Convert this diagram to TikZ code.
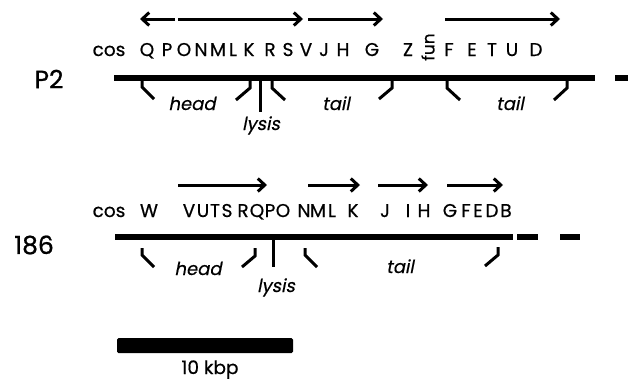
\documentclass[tikz,border=0pt]{standalone}
\usepackage{fontspec}
\setmainfont{Poppins}[AutoFakeSlant=0.2]
\usetikzlibrary{arrows.meta}
\tikzset{
  gene/.style={font=\fontsize{18.5}{20}\selectfont\addfontfeature{FakeBold=0.6}, anchor=base, inner sep=0pt},
  lab/.style={font=\fontsize{18}{20}\selectfont\itshape\addfontfeature{FakeBold=0.5}, anchor=base, inner sep=0pt},
  phage/.style={font=\fontsize{25}{28}\selectfont\addfontfeature{FakeBold=0.8}, inner sep=0pt},
  dna/.style={line width=5.5pt},
  brk/.style={line width=3pt},
  garrow/.style={line width=3pt, -{Straight Barb[length=7pt,width=13pt]}},
}
\begin{document}
\begin{tikzpicture}[x=1pt,y=-1pt]
\useasboundingbox (0,0) rectangle (628,381);
% ---------- P2 ----------
\node[phage] (p2lab) at (49,79) {P2};
\node[gene] (p2cos) at (109,56) {cos};
\foreach \l/\x in {Q/147,P/167,O/184,N/201,M/218,L/233,K/249,R/270,S/288,V/306,J/324,H/343,G/372,Z/408,F/449,E/472,T/492,U/512,D/536}
  \node[gene] (p2\l) at (\x,56) {\l};
\node[font=\fontsize{17}{18}\selectfont\addfontfeature{FakeBold=0.5}, rotate=90, inner sep=0pt] (p2fun) at (428,47) {fun};
% arrows
\coordinate (a1s) at (175,19); \coordinate (a1e) at (140,19);
\coordinate (a2s) at (178,19); \coordinate (a2e) at (303,19);
\coordinate (a3s) at (308,19); \coordinate (a3e) at (383,19);
\coordinate (a4s) at (445,19); \coordinate (a4e) at (560,19);
\draw[garrow] (a1s) -- (a1e);
\draw[garrow] (a2s) -- (a2e);
\draw[garrow] (a3s) -- (a3e);
\draw[garrow] (a4s) -- (a4e);
% DNA
\coordinate (p2l) at (114,78); \coordinate (p2r) at (595,78);
\coordinate (p2d1) at (615,78); \coordinate (p2d2) at (632,78);
\draw[dna] (p2l) -- (p2r);
\draw[dna] (p2d1) -- (p2d2);
% brackets
\draw[brk] (142,79) -- (142,87) -- (154,99);
\draw[brk] (250,79) -- (250,88) -- (236,100);
\draw[brk] (260,79) -- (260,112);
\draw[brk] (272,79) -- (272,88) -- (285,100);
\draw[brk] (392,79) -- (392,88) -- (379,99);
\draw[brk] (447,79) -- (447,88) -- (460,100);
\draw[brk] (567,79) -- (567,88) -- (554,100);
\node[lab] (p2head) at (192,110) {head};
\node[lab] (p2tail1) at (336,110) {tail};
\node[lab] (p2tail2) at (510,110) {tail};
\node[lab] (p2lysis) at (261,130) {lysis};
% ---------- 186 ----------
\node[phage] (qlab) at (34,245) {186};
\node[gene] (qcos) at (109,217) {cos};
\foreach \l/\x in {W/149,V/189,U/203,T/215,S/227,R/243,Q/257,P/270,O/283,N/304,M/318,L/332,K/353,J/385,I/408,H/424,G/450,F/466,E/478,D/492,B/506}
  \node[gene] (q\l) at (\x,217) {\l};
\coordinate (b1s) at (178,185); \coordinate (b1e) at (267,185);
\coordinate (b2s) at (308,185); \coordinate (b2e) at (360,185);
\coordinate (b3s) at (378,185); \coordinate (b3e) at (428,185);
\coordinate (b4s) at (447,185); \coordinate (b4e) at (503,185);
\draw[garrow] (b1s) -- (b1e);
\draw[garrow] (b2s) -- (b2e);
\draw[garrow] (b3s) -- (b3e);
\draw[garrow] (b4s) -- (b4e);
\coordinate (ql) at (115,237); \coordinate (qr) at (513,237);
\draw[dna] (ql) -- (qr);
\draw[dna] (517,237) -- (538,237);
\draw[dna] (560,237) -- (580,237);
\draw[brk] (142,248) -- (142,255) -- (154,267);
\draw[brk] (255,248) -- (255,256) -- (242,267);
\draw[brk] (273,237) -- (273,267);
\draw[brk] (305,248) -- (305,255) -- (317,267);
\draw[brk] (498,247) -- (498,255) -- (485,266);
\node[lab] (qhead) at (198,275) {head};
\node[lab] (qtail) at (400,273) {tail};
\node[lab] (qlysis) at (276,292) {lysis};
% ---------- scale bar ----------
\fill[rounded corners=1.5pt] (117,338) rectangle (293,353);
\node[gene] (scale) at (210,374) {10 kbp};
\end{tikzpicture}
\end{document}
